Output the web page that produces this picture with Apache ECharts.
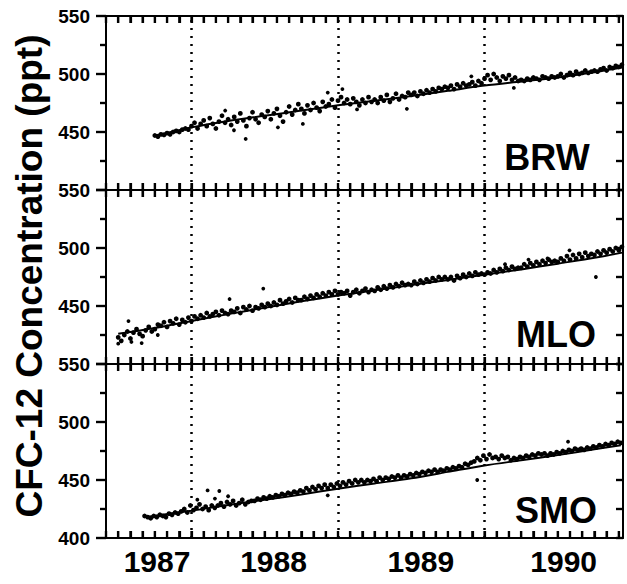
<!DOCTYPE html>
<html><head><meta charset="utf-8">
<script src="https://cdn.jsdelivr.net/npm/echarts@6/dist/echarts.min.js"></script>
<style>html,body{margin:0;padding:0;background:#fff}#c{width:627px;height:584px}</style>
</head><body><div id="c"></div>
<script>
// ---------- data ----------
const stations = ['BRW', 'MLO', 'SMO'];
const yearLabels = ['1987', '1988', '1989', '1990'];
const yearLabelPos = [1987.765, 1988.56, 1989.565, 1990.54];
const yearLines = [1988, 1989, 1990];
const yLabelsUpper = [450, 500, 550];
const yLabelsBottom = [400, 450, 500, 550];
const yMajorTicks = [400, 450, 500, 550];
const yMinorTicks = [425, 475, 525];
const yRightTicks = [400, 425, 450, 475, 500, 525, 550];

const sampleStep = 1 / 48;

const brwStart = 1987.75;
const brwValues = [
  447, 446, 448, 447.5, 449, 448, 450, 451, 450, 452, 453, 452,
  455, 458, 453, 457, 460, 455, 462, 457, 453, 459, 464, 458,
  461, 456, 463, 459, 466, 460, 455, 462, 467, 461, 458, 465,
  463, 468, 461, 466, 470, 464, 459, 467, 472, 465, 469, 474,
  470, 466, 473, 469, 475, 471, 468, 476, 472, 474, 478, 471,
  477, 480, 475, 478, 474, 479, 476, 473, 478, 475, 480, 476,
  478, 475, 480, 477, 482, 476, 479, 483, 478, 481, 480, 484,
  482, 484, 481, 485, 483, 486, 484, 487, 485, 488, 487, 489,
  488, 490, 487, 491, 489, 492, 490, 491, 493, 490, 494, 492,
  496, 499, 495, 500, 497, 494, 498, 496, 499, 495, 497, 494,
  495, 494, 496, 495, 497, 496, 495, 498, 497, 496, 498, 497,
  498, 500, 497, 499, 501, 499, 502, 500, 501, 503, 501, 502,
  503, 502, 504, 505, 503, 506, 505, 507, 506, 508
];
const brwOutliers = [
  [1988.37, 444], [1988.29, 451.5], [1988.23, 468.5], [1988.59, 454], [1988.76, 457],
  [1988.93, 484], [1989.03, 487], [1989.13, 469.5], [1989.47, 470], [1989.91, 498], [1990.2, 488]
];
const brwTrendYears = [1987.75, 1988.0, 1988.25, 1988.5, 1988.75, 1989.0, 1989.25, 1989.5, 1989.75, 1990.0, 1990.25, 1990.5, 1990.75, 1990.94];
const brwTrendValues = [447, 454, 459.5, 464, 468.5, 473, 477, 481, 485.5, 490, 493.5, 497, 501.5, 505.5];

const mloStart = 1987.5;
const mloValues = [
  423, 420, 425, 428, 422, 427, 430, 426, 424, 429, 432, 428,
  430, 434, 433, 436, 432, 437, 435, 439, 434, 438, 436, 440,
  437, 441, 439, 442, 440, 444, 441, 443, 445, 442, 446, 444,
  443, 446, 445, 448, 444, 449, 447, 450, 446, 449, 448, 451,
  449, 452, 450, 453, 451, 455, 452, 454, 456, 453, 457, 455,
  455, 458, 456, 459, 457, 460, 458, 461, 459, 462, 460, 463,
  460, 462, 461, 463, 459, 462, 464, 461, 463, 465, 462, 464,
  463, 466, 464, 467, 465, 468, 466, 469, 467, 470, 468, 469,
  468, 471, 469, 472, 470, 473, 471, 474, 472, 475, 473, 475,
  473, 475, 472, 476, 474, 477, 475, 478, 476, 479, 477, 478,
  477, 479, 478, 481, 479, 482, 480, 483, 481, 484, 482, 483,
  483, 486, 484, 487, 485, 488, 486, 489, 487, 490, 488, 489,
  488, 491, 489, 493, 490, 494, 491, 495, 492, 496, 493, 495,
  494, 497, 495, 498, 496, 499, 497, 500, 498, 501
];
const mloOutliers = [
  [1987.57, 437], [1987.5, 417.5], [1987.59, 419], [1987.66, 418], [1987.77, 425],
  [1988.26, 456], [1988.49, 465], [1990.14, 486], [1990.3, 490], [1990.43, 491],
  [1990.58, 498], [1990.76, 475]
];
const mloTrendYears = [1987.5, 1987.75, 1988.0, 1988.25, 1988.5, 1988.75, 1989.0, 1989.25, 1989.5, 1989.75, 1990.0, 1990.25, 1990.5, 1990.75, 1990.94];
const mloTrendValues = [426, 431, 437, 443, 448.5, 454, 459, 463.5, 468, 472.5, 477, 481.5, 486.5, 491.5, 496];

const smoStart = 1987.68;
const smoValues = [
  419, 418, 417, 419, 418, 420, 419, 418, 421, 420, 422, 421,
  423, 425, 422, 428, 424, 426, 429, 425, 427, 424, 428, 426,
  428, 430, 427, 431, 429, 432, 428, 430, 433, 429, 431, 432,
  432, 434, 433, 435, 434, 436, 435, 437, 436, 438, 437, 439,
  438, 440, 439, 441, 440, 443, 441, 444, 442, 445, 443, 446,
  443, 446, 444, 447, 445, 448, 446, 449, 447, 450, 448, 450,
  448, 450, 449, 451, 449, 452, 450, 452, 451, 453, 452, 454,
  452, 454, 453, 455, 454, 456, 455, 457, 456, 458, 457, 459,
  457, 459, 458, 460, 459, 461, 460, 462, 461, 464, 463, 465,
  466, 469, 467, 471, 468, 472, 469, 470, 468, 471, 469, 470,
  467, 469, 468, 470, 469, 471, 470, 472, 471, 473, 472, 473,
  471, 473, 472, 474, 473, 475, 474, 476, 475, 477, 476, 477,
  476, 478, 477, 479, 478, 480, 479, 481, 480, 482, 481, 483, 482
];
const smoOutliers = [
  [1988.04, 433], [1988.11, 441], [1988.19, 440.5], [1988.16, 434], [1988.25, 436],
  [1988.93, 436.8], [1989.95, 450], [1990.57, 483]
];
const smoTrendYears = [1987.68, 1988.0, 1988.25, 1988.5, 1988.75, 1989.0, 1989.25, 1989.5, 1989.75, 1990.0, 1990.25, 1990.5, 1990.75, 1990.93];
const smoTrendValues = [418, 423.5, 428.5, 433, 437.5, 442.5, 447, 451.5, 457, 462.5, 467, 471.5, 476.5, 480];

// ---------- layout / styles ----------
const FONT = 'Liberation Sans, Arial, Helvetica, sans-serif';
const MONTH = 1 / 12;
const X_MIN = 1987 + 5 * MONTH, X_MAX = 1990.945;
const Y_MIN = 400, Y_MAX = 550;
const panelTops = [16, 190, 364];
const panelH = 174;
const monthTicks = [];
for (let m = 5; m < 48; m++) monthTicks.push(1987 + m / 12);

const panels = [
  { start: brwStart, values: brwValues, outliers: brwOutliers, ty: brwTrendYears, tv: brwTrendValues },
  { start: mloStart, values: mloValues, outliers: mloOutliers, ty: mloTrendYears, tv: mloTrendValues },
  { start: smoStart, values: smoValues, outliers: smoOutliers, ty: smoTrendYears, tv: smoTrendValues }
];

function tickMarks(xi, yi, data, size, offset) {
  return {
    type: 'scatter', xAxisIndex: xi, yAxisIndex: yi, data: data, clip: false, silent: true,
    symbol: 'rect', symbolSize: size, symbolOffset: offset,
    itemStyle: { color: '#000', opacity: 1, borderWidth: 0 }, z: 5
  };
}

const grids = [], xAxes = [], yAxes = [], series = [];
panels.forEach((p, k) => {
  const isBottom = k === 2;
  const ts = () => ({ color: '#000', width: 2.2 });
  const al = () => ({ show: true, onZero: false, lineStyle: { color: '#000', width: 2 } });
  grids.push({ left: 106, right: 4, top: panelTops[k], height: panelH });
  xAxes.push({
    type: 'value', gridIndex: k, position: 'bottom', min: X_MIN, max: X_MAX, interval: MONTH,
    axisLine: al(),
    axisTick: { show: true, inside: true, length: 7, customValues: monthTicks, lineStyle: ts() },
    axisLabel: isBottom ? {
      show: true, customValues: yearLabelPos, margin: 8,
      formatter: v => {
        let best = 0;
        yearLabelPos.forEach((q, i) => { if (Math.abs(q - v) < Math.abs(yearLabelPos[best] - v)) best = i; });
        return yearLabels[best];
      },
      color: '#000', fontSize: 30, fontWeight: 'bold', fontFamily: FONT
    } : { show: false },
    splitLine: { show: false }
  });
  xAxes.push({
    type: 'value', gridIndex: k, position: 'top', min: X_MIN, max: X_MAX, interval: MONTH,
    axisLine: al(),
    axisTick: { show: true, inside: true, length: 7, customValues: monthTicks, lineStyle: ts() },
    axisLabel: { show: false },
    splitLine: { show: false }
  });
  yAxes.push({
    type: 'value', gridIndex: k, position: 'left', min: Y_MIN, max: Y_MAX, interval: 50,
    axisLine: al(),
    axisTick: { show: true, inside: false, length: 10, lineStyle: ts() },
    minorTick: { show: true, splitNumber: 2, length: 6, lineStyle: ts() },
    axisLabel: {
      show: true, customValues: isBottom ? yLabelsBottom : yLabelsUpper, margin: 16,
      color: '#000', fontSize: 19, fontWeight: 'bold', fontFamily: FONT
    },
    splitLine: { show: false }, minorSplitLine: { show: false }
  });
  yAxes.push({
    type: 'value', gridIndex: k, position: 'right', min: Y_MIN, max: Y_MAX, interval: 25,
    axisLine: al(),
    axisTick: { show: true, inside: true, length: 7, lineStyle: ts() },
    axisLabel: { show: false },
    splitLine: { show: false }
  });

  const xi = 2 * k, yi = 2 * k;
  series.push({
    type: 'scatter', xAxisIndex: xi, yAxisIndex: yi,
    data: p.values.map((v, i) => [p.start + i * sampleStep, v]),
    symbol: 'circle', symbolSize: 4.8, itemStyle: { color: '#000', opacity: 1 },
    markLine: {
      symbol: ['none', 'none'], label: { show: false }, silent: true,
      lineStyle: { color: '#000', width: 2.5, type: [2, 6], opacity: 1 },
      data: yearLines.map(y => ({ xAxis: y }))
    }
  });
  series.push({
    type: 'scatter', xAxisIndex: xi, yAxisIndex: yi,
    data: p.outliers, symbol: 'circle', symbolSize: 3.8, itemStyle: { color: '#000', opacity: 1 }
  });
  series.push({
    type: 'line', xAxisIndex: xi, yAxisIndex: yi,
    data: p.ty.map((y, i) => [y, p.tv[i]]), smooth: 0.3, showSymbol: false,
    lineStyle: { color: '#000', width: 2 }
  });
  series.push(tickMarks(xi, yi, monthTicks.map(m => [m, Y_MIN]), [2.2, 7], [0, -3.5]));
  series.push(tickMarks(xi, yi, monthTicks.map(m => [m, Y_MAX]), [2.2, 7], [0, 3.5]));
  series.push(tickMarks(xi, yi, yMajorTicks.map(v => [X_MIN, v]), [10, 2.2], [-5, 0]));
  series.push(tickMarks(xi, yi, yMinorTicks.map(v => [X_MIN, v]), [6, 2.2], [-3, 0]));
  series.push(tickMarks(xi, yi, yRightTicks.map(v => [X_MAX, v]), [7, 2.2], [-3.5, 0]));
});

const labelPos = [[547, 157], [556, 334], [556, 510]];
const graphics = stations.map((s, k) => ({
  type: 'text', x: labelPos[k][0], y: labelPos[k][1], silent: true,
  style: { text: s, font: 'bold 36px ' + FONT, fill: '#000', align: 'center', verticalAlign: 'middle' }
}));
graphics.push({
  type: 'text', x: 29, y: 276, rotation: Math.PI / 2, silent: true,
  style: { text: 'CFC-12 Concentration (ppt)', font: 'bold 37px ' + FONT, fill: '#000', align: 'center', verticalAlign: 'middle' }
});

const chart = echarts.init(document.getElementById('c'), null, { renderer: 'svg' });
chart.setOption({
  animation: false,
  grid: grids, xAxis: xAxes, yAxis: yAxes, series: series,
  graphic: graphics
});
</script>
</body></html>
